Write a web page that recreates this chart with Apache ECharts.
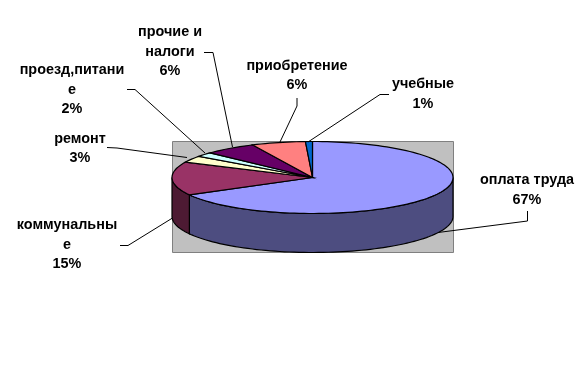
<!DOCTYPE html>
<html>
<head>
<meta charset="utf-8">
<script src="https://cdn.jsdelivr.net/npm/echarts@6/dist/echarts.min.js"></script>
<style>html,body{margin:0;padding:0;background:#fff}#c{width:588px;height:377px}</style>
</head>
<body>
<div id="c"></div>
<script>
const categories = ['оплата труда','коммунальные','ремонт','проезд,питание','прочие и налоги','приобретение','учебные'];
const values = [67, 15, 3, 2, 6, 6.2, 0.8];
const labelLines = [['оплата труда'],['коммунальны','е'],['ремонт'],['проезд,питани','е'],['прочие и','налоги'],['приобретение'],['учебные']];

const topColors = ['#9999FF','#993366','#FFFFCC','#CCFFFF','#660066','#FF8080','#0066CC'];
const sideColors = ['#4D4D80','#4D1A33','#808066','#668080','#330033','#804040','#003366'];
const labelAt = [[527,190],[67,245],[80,148.5],[72,90],[170,52],[297,75.5],[423,94]];
const leaders = [
 [[527.5,211],[527.5,221],[438,232.5]],
 [[120,245.5],[128,245.5],[172.5,218]],
 [[107,147.5],[117,148],[187,157.5]],
 [[127,89.5],[135,89.5],[205,153]],
 [[204,52.5],[213,52.5],[232.5,147]],
 [[297,98],[297,106],[280,142]],
 [[389,94.5],[380,94.5],[308,142]]
];
const pie = {cx:312.5, cy:177.5, rx:140.5, ry:36, depth:39};
const total = values.reduce((a,b)=>a+b,0);
const starts = []; values.reduce((acc,v,i)=>{starts[i]=acc;return acc+v;},0);
const pt = (deg,dy)=>{const r=deg*Math.PI/180;return [pie.cx+pie.rx*Math.sin(r), pie.cy-pie.ry*Math.cos(r)+(dy||0)];};
const arc = (a,b,dy)=>{const out=[],n=Math.max(2,Math.ceil(Math.abs(b-a)/2));for(let i=0;i<=n;i++)out.push(pt(a+(b-a)*i/n,dy));return out;};

function renderItem(params, api){
  const i = params.dataIndex, v = api.value(0);
  const a = starts[i]/total*360, b = (starts[i]+v)/total*360;
  const children = [];
  const wa = Math.max(a,90), wb = Math.min(b,270);
  if (wb>wa) children.push({type:'polygon',shape:{points:arc(wa,wb,0).concat(arc(wb,wa,pie.depth))},
    style:{fill:sideColors[i],stroke:'#000',lineWidth:1.2}});
  children.push({type:'polygon',shape:{points:[[pie.cx,pie.cy]].concat(arc(a,b,0))},
    style:{fill:topColors[i],stroke:'#000',lineWidth:1.2}});
  children.push({type:'polyline',z2:50,shape:{points:leaders[i]},style:{fill:null,stroke:'#000',lineWidth:1}});
  children.push({type:'text',z2:60,x:labelAt[i][0],y:labelAt[i][1],style:{
    text:labelLines[i].concat([Math.round(v/total*100)+'%']).join('\n'),
    font:'bold 14.4px "Liberation Sans", Arial, sans-serif',lineHeight:19.5,
    fill:'#000',align:'center',verticalAlign:'middle'}});
  return {type:'group',children};
}
const chart = echarts.init(document.getElementById('c'),null,{renderer:'canvas'});
chart.setOption({
  animation:false,
  backgroundColor:'#fff',
  graphic:[{type:'rect',z:0,silent:true,shape:{x:172.5,y:141.5,width:281,height:111},
    style:{fill:'#C0C0C0',stroke:'#808080',lineWidth:1}}],
  series:[{type:'custom',coordinateSystem:'none',z:5,renderItem,silent:true,
    data:categories.map((n,i)=>({name:n,value:[values[i]]}))}]
});
</script>
</body>
</html>
